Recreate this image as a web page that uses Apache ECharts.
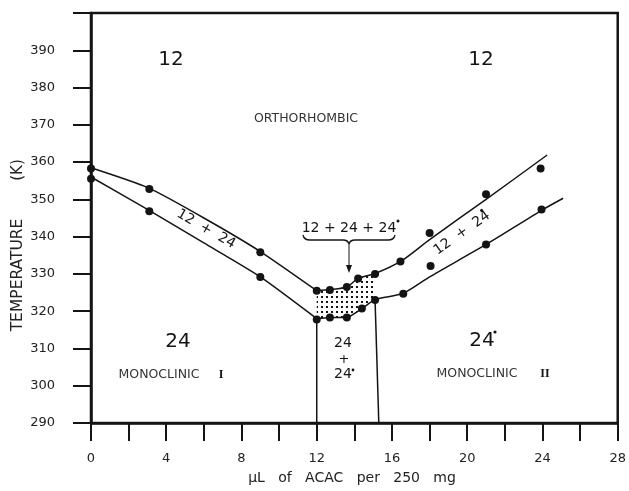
<!DOCTYPE html>
<html>
<head>
<meta charset="utf-8">
<script src="https://cdn.jsdelivr.net/npm/echarts@6/dist/echarts.min.js"></script>
<style>
  html, body { margin: 0; padding: 0; background: #fff; }
  #chart { width: 629px; height: 491px; }
</style>
</head>
<body>
<div id="chart"></div>
<script>
// Phase diagram: temperature (K) vs µL of ACAC per 250 mg

// Measured transition points
const upperLeftPts  = [[0, 358.3], [3.1, 352.8], [9, 335.8]];
const lowerLeftPts  = [[0, 355.5], [3.1, 346.8], [9, 329.2]];
const upperMidPts   = [[12, 325.5], [12.7, 325.7], [13.6, 326.5], [14.2, 328.8], [15.1, 330], [16.45, 333.3]];
const lowerMidPts   = [[12, 317.8], [12.7, 318.3], [13.6, 318.3], [14.4, 320.7], [15.1, 323], [16.6, 324.7]];
const upperRightPts = [[18, 341], [21, 351.4], [23.9, 358.3]];
const lowerRightPts = [[18.05, 332.1], [21, 337.9], [23.95, 347.3]];

// Drawn phase boundaries
const upperLeftCurve  = [[0, 358.5], [3, 353.2], [6, 345], [9, 336], [12, 325.5]];
const lowerLeftCurve  = [[0, 356], [3, 347.3], [6, 338.3], [9, 329.2], [12, 318]];
const upperRightCurve = [[12, 325.5], [12.7, 325.8], [13.6, 326.5], [14.2, 328.8], [15.1, 330.1],
                         [16.5, 333.5], [18, 339.2], [21, 350], [24.25, 361.9]];
const lowerRightCurve = [[12, 318], [12.7, 318.3], [13.6, 318.4], [14.4, 320.7], [15.1, 323.1],
                         [16.6, 324.8], [18, 329.2], [21, 337.9], [24, 347.2], [25.1, 350.3]];
const leftDivider  = [[12, 318], [12, 290]];
const rightDivider = [[15.1, 323.1], [15.3, 290]];

// Three-phase region (12 + 24 + 24*)
const threePhaseTop    = [[12, 325.5], [12.7, 325.8], [13.6, 326.5], [14.2, 328.8], [15.1, 330.1]];
const threePhaseBottom = [[12, 318], [12.7, 318.3], [13.6, 318.4], [14.4, 320.7], [15.1, 323.1]];

// Axis ticks
const xMin = 0, xMax = 28, xStep = 2, xLabelStep = 4;
const yMin = 290, yMax = 400, yStep = 10;

const INK = '#141414';
const FONT = '"DejaVu Sans", sans-serif';

// small dot texture for the shaded region
const dots = document.createElement('canvas');
dots.width = 5; dots.height = 5;
(function () {
  const c = dots.getContext('2d');
  c.fillStyle = INK;
  c.fillRect(1, 1, 2, 2);
})();

const chart = echarts.init(document.getElementById('chart'), null, { renderer: 'canvas' });

function curve(data, smooth) {
  return {
    type: 'line', data: data, showSymbol: false, smooth: smooth, silent: true,
    lineStyle: { color: INK, width: 1.5 }, z: 3
  };
}
function points(data) {
  return {
    type: 'scatter', data: data, symbol: 'circle', symbolSize: 8, silent: true,
    itemStyle: { color: INK, opacity: 1 }, z: 5
  };
}

function text(str, x, y, size, extra, rot) {
  return {
    type: 'text', x: x, y: y, rotation: rot || 0, silent: true,
    style: Object.assign({
      text: str, font: size + 'px ' + FONT, fill: INK, align: 'center', verticalAlign: 'middle'
    }, extra || {})
  };
}
function dot(x, y, r) {
  return { type: 'circle', shape: { cx: x, cy: y, r: r || 1.6 }, style: { fill: INK }, silent: true };
}
function seg(x1, y1, x2, y2, w) {
  return { type: 'line', silent: true, shape: { x1: x1, y1: y1, x2: x2, y2: y2 },
           style: { stroke: INK, lineWidth: w || 1.3 } };
}
function qcurve(x1, y1, cx, cy, x2, y2) {
  return { type: 'bezierCurve', silent: true,
           shape: { x1: x1, y1: y1, cpx1: cx, cpy1: cy, x2: x2, y2: y2 },
           style: { stroke: INK, lineWidth: 1.3, fill: null } };
}

chart.setOption({
  backgroundColor: '#fff',
  animation: false,
  grid: {
    left: 91, right: 8, top: 13, bottom: 68,
    show: true, borderColor: INK, borderWidth: 2.5, backgroundColor: 'transparent'
  },
  xAxis: {
    type: 'value', min: xMin, max: xMax, interval: xStep,
    axisLine: { lineStyle: { color: INK, width: 2.5 } },
    axisTick: { length: 18, lineStyle: { color: INK, width: 2 } },
    splitLine: { show: false },
    axisLabel: {
      margin: 29, color: '#222', fontFamily: FONT, fontSize: 13,
      formatter: v => (v % xLabelStep === 0 ? String(v) : '')
    }
  },
  yAxis: {
    type: 'value', min: yMin, max: yMax, interval: yStep,
    axisLine: { lineStyle: { color: INK, width: 2.5 } },
    axisTick: { length: 18, lineStyle: { color: INK, width: 2 } },
    splitLine: { show: false },
    axisLabel: {
      margin: 36, color: '#222', fontFamily: FONT, fontSize: 13,
      formatter: v => (v === yMax ? '' : String(v))
    }
  },
  series: [
    {
      type: 'custom', silent: true, z: 1,
      data: [[13.5, 322]],
      renderItem: function (params, api) {
        const pts = threePhaseTop.map(p => api.coord(p))
          .concat(threePhaseBottom.slice().reverse().map(p => api.coord(p)));
        return {
          type: 'polygon',
          shape: { points: pts },
          style: { fill: { image: dots, repeat: 'repeat' }, stroke: null }
        };
      }
    },
    curve(upperLeftCurve, 0.2),
    curve(lowerLeftCurve, 0.2),
    curve(upperRightCurve, 0.25),
    curve(lowerRightCurve, 0.25),
    curve(leftDivider, false),
    curve(rightDivider, false),
    points(upperLeftPts), points(lowerLeftPts),
    points(upperMidPts), points(lowerMidPts),
    points(upperRightPts), points(lowerRightPts)
  ],
  graphic: [
    // axis titles
    text('TEMPERATURE', 18, 275, 15.5, { fill: '#222' }, Math.PI / 2),
    text('(K)', 18, 170, 15, { fill: '#222' }, Math.PI / 2),
    text('\u00b5L   of   ACAC   per   250   mg', 352, 478, 14, { fill: '#222' }),

    // phase labels
    text('12', 171, 60, 20),
    text('12', 481, 60, 20),
    text('ORTHORHOMBIC', 306, 119, 12.5, { fill: '#333' }),

    text('24', 178, 342, 20),
    text('MONOCLINIC', 159, 375, 12.5, { fill: '#333' }),
    text('I', 221, 375, 12, { font: 'bold 12px "Liberation Serif", serif' }),

    text('24', 482, 341, 20),
    dot(495, 332, 1.6),
    text('MONOCLINIC', 477, 374, 12.5, { fill: '#333' }),
    text('II', 545, 374, 12, { font: 'bold 12px "Liberation Serif", serif' }),

    text('24', 343, 343, 14),
    text('+', 344, 360, 13),
    text('24', 343, 374, 14),
    dot(353, 370, 1.4),

    // two-phase labels along the boundaries
    text('12  +  24', 206, 229, 14, null, -0.52),
    {
      type: 'group', x: 462, y: 233, rotation: 0.62, silent: true,
      children: [text('12  +  24', 0, 0, 14), dot(29, -7, 1.5)]
    },

    // three-phase label, brace and arrow
    text('12 + 24 + 24', 349, 228, 14),
    dot(398, 221, 1.5),
    qcurve(303, 235, 304, 240, 310, 240),
    seg(310, 240, 343, 240),
    qcurve(343, 240, 348, 240, 349, 244),
    qcurve(349, 244, 350, 240, 355, 240),
    seg(355, 240, 388, 240),
    qcurve(388, 240, 394, 240, 395, 235),
    seg(349, 244, 349, 267, 1),
    { type: 'polygon', silent: true, shape: { points: [[346, 265], [352, 265], [349, 273]] }, style: { fill: INK } }
  ]
});
</script>
</body>
</html>
